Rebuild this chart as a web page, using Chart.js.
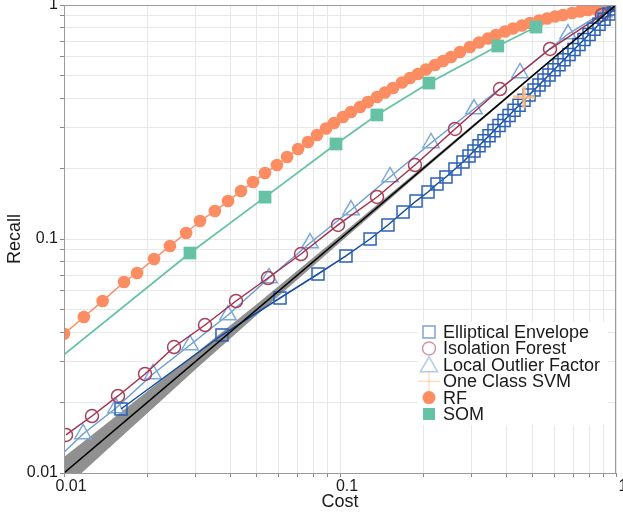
<!DOCTYPE html>
<html>
<head>
<meta charset="utf-8">
<script src="https://cdn.jsdelivr.net/npm/chart.js"></script>
<style>
  html, body { margin: 0; padding: 0; background: #fff; }
</style>
</head>
<body>
<canvas id="myChart" width="623" height="516"></canvas>
<script>
// values (cost on x, recall on y, both log)
const rfCost = [0.0100, 0.0118, 0.0138, 0.0165, 0.0184, 0.0212, 0.0242, 0.0277, 0.0311, 0.0352, 0.0393, 0.0438, 0.0484, 0.0535, 0.0591, 0.0643, 0.0705, 0.0766, 0.0826,
  0.0890, 0.0951, 0.1025, 0.1096, 0.1182, 0.1263, 0.1362, 0.1455, 0.1556, 0.1677, 0.1793, 0.1917, 0.2049, 0.2209, 0.2361, 0.2525, 0.2721, 0.2958, 0.3189, 0.3438,
  0.3674, 0.3962, 0.4235, 0.4564, 0.4880, 0.5260, 0.5623, 0.6012, 0.6427, 0.6929, 0.7408, 0.7918, 0.8464, 0.9049, 0.9512, 1.0];
const rfRecall = [0.0393, 0.0464, 0.0543, 0.0655, 0.0716, 0.0821, 0.0934, 0.1061, 0.1194, 0.1317, 0.1453, 0.1604, 0.1752, 0.1914, 0.2071, 0.2241, 0.2424, 0.2598, 0.2782,
  0.2967, 0.3131, 0.3322, 0.3488, 0.3664, 0.3849, 0.4044, 0.4227, 0.4418, 0.4665, 0.4876, 0.5072, 0.5301, 0.5540, 0.5762, 0.5994, 0.6296, 0.6614, 0.6913, 0.7192,
  0.7444, 0.7704, 0.7937, 0.8174, 0.8377, 0.8584, 0.8756, 0.8929, 0.9064, 0.9243, 0.9380, 0.9520, 0.9614, 0.9757, 0.9853, 1.0];

const somCost = [0.0075, 0.0286, 0.0535, 0.0967, 0.136, 0.210, 0.373, 0.513];
const somRecall = [0.0244, 0.0871, 0.151, 0.2547, 0.339, 0.464, 0.668, 0.805];

const ifCost = [0.01017, 0.01263, 0.01569, 0.01966, 0.02504, 0.03243, 0.04199, 0.05484, 0.07222, 0.09835, 0.1362, 0.1869, 0.2610, 0.3799, 0.5767, 0.8898, 1];
const ifRecall = [0.01454, 0.01752, 0.02134, 0.02649, 0.03455, 0.04290, 0.05433, 0.06813, 0.08627, 0.1148, 0.1512, 0.2071, 0.2952, 0.4375, 0.6486, 0.9064, 1];

const lofCost = [0.0082, 0.01172, 0.01543, 0.02101, 0.02861, 0.03928, 0.05531, 0.07786, 0.1096, 0.1518, 0.2137, 0.3058, 0.4489, 0.6701, 0.9049, 1];
const lofRecall = [0.0098, 0.01468, 0.01896, 0.02649, 0.03524, 0.04733, 0.06813, 0.09614, 0.1330, 0.1841, 0.2572, 0.3593, 0.5122, 0.7516, 0.9335, 1];

const eeCost = [0.01609, 0.03736, 0.06062, 0.08324, 0.1051, 0.1285, 0.1492, 0.1692, 0.1886, 0.2084, 0.2246, 0.2421, 0.2610, 0.2790,
  0.2934, 0.3058, 0.3189, 0.3325, 0.3467, 0.3614, 0.3768, 0.3929, 0.4097, 0.4271, 0.4453, 0.4642, 0.4840, 0.5047, 0.5260, 0.5484,
  0.5718, 0.5963, 0.6216, 0.6480, 0.6757, 0.7044, 0.7343, 0.7659, 0.7985, 0.8323, 0.8677, 0.9049, 0.9432, 0.9835, 1];
const eeRecall = [0.01877, 0.03888, 0.05596, 0.07087, 0.08462, 0.1000, 0.1148, 0.1304, 0.1453, 0.1588, 0.1718, 0.1841, 0.1991, 0.2133,
  0.2265, 0.2379, 0.2502, 0.2630, 0.2763, 0.2905, 0.3055, 0.3209, 0.3374, 0.3548, 0.3727, 0.3919, 0.4121, 0.4328, 0.4550, 0.4785,
  0.5025, 0.5284, 0.5551, 0.5837, 0.6138, 0.6447, 0.6779, 0.7128, 0.7488, 0.7873, 0.8279, 0.8695, 0.9144, 0.9614, 1];

const svmCost = [0.4642];
const svmRecall = [0.4044];

// random baseline and its grey band
const diagCost = [0.01, 1];
const diagRecall = [0.01, 1];
const bandCost = [0.01, 0.015, 0.02, 0.03, 0.05, 0.1, 0.2, 0.5, 1];
const bandHigh = [0.01171, 0.01705, 0.02229, 0.03246, 0.05278, 0.1035, 0.2040, 0.5050, 1];
const bandLow = [0.00854, 0.01320, 0.01795, 0.02773, 0.04737, 0.0966, 0.1961, 0.4950, 1];

const legendLabels = ['Elliptical Envelope', 'Isolation Forest', 'Local Outlier Factor', 'One Class SVM', 'RF', 'SOM'];
const majorTicks = [0.01, 0.1, 1];
const gridValues = [0.01, 0.02, 0.03, 0.04, 0.05, 0.06, 0.07, 0.08, 0.09, 0.1, 0.2, 0.3, 0.4, 0.5, 0.6, 0.7, 0.8, 0.9, 1];

function pairs(xs, ys) {
    return xs.map((x, i) => ({ x: x, y: ys[i] }));
}

const FONT = '"Liberation Sans", Arial, sans-serif';
Chart.defaults.font.family = FONT;
Chart.defaults.font.size = 16;
Chart.defaults.color = '#1a1a1a';

const legendMarks = [
    { pointStyle: 'rect', radius: 8.5, borderWidth: 1.5, stroke: 'rgba(45,98,181,0.6)', fill: 'rgba(0,0,0,0)' },
    { pointStyle: 'circle', radius: 6.5, borderWidth: 1.5, stroke: 'rgba(168,65,90,0.55)', fill: 'rgba(0,0,0,0)' },
    { pointStyle: 'triangle', radius: 10, borderWidth: 1.5, stroke: 'rgba(126,170,217,0.6)', fill: 'rgba(0,0,0,0)' },
    { pointStyle: 'cross', radius: 11, borderWidth: 1, stroke: 'rgba(253,190,130,0.7)', fill: 'rgba(0,0,0,0)' },
    { pointStyle: 'circle', radius: 6.5, borderWidth: 0, stroke: '#fc8d62', fill: '#fc8d62' },
    { pointStyle: 'rect', radius: 8.5, borderWidth: 0, stroke: '#66c2a5', fill: '#66c2a5' }
];

const frameAndLegend = {
    id: 'frameAndLegend',
    afterDraw(chart) {
        const ctx = chart.ctx;
        const a = chart.chartArea;
        ctx.save();
        ctx.strokeStyle = '#9a9a9a';
        ctx.lineWidth = 1;
        ctx.strokeRect(Math.round(a.left) + 0.5, Math.round(a.top) + 0.5, Math.round(a.right - a.left) - 1, Math.round(a.bottom - a.top));

        // legend box, bottom right inside the plot
        const bx = a.right - 198, by = a.bottom - 151;
        ctx.fillStyle = '#ffffff';
        ctx.fillRect(bx, by, 190, 103);
        ctx.font = '18px ' + FONT;
        ctx.textBaseline = 'middle';
        ctx.textAlign = 'left';
        legendLabels.forEach((label, i) => {
            const y = by + 10 + i * 16.4;
            const m = legendMarks[i];
            ctx.strokeStyle = m.stroke;
            ctx.fillStyle = m.fill;
            ctx.lineWidth = m.borderWidth;
            Chart.helpers.drawPoint(ctx, { pointStyle: m.pointStyle, radius: m.radius, borderWidth: m.borderWidth, rotation: 0 }, bx + 11, y + (m.pointStyle === 'triangle' ? 2 : 0));
            ctx.fillStyle = '#1a1a1a';
            ctx.fillText(label, bx + 25, y + 1);
        });
        ctx.restore();
    }
};

function logAxis(title, isX) {
    return {
        type: 'logarithmic',
        min: 0.01,
        max: 1,
        position: isX ? 'bottom' : 'left',
        border: { display: false },
        grid: { color: '#e8e8e8', lineWidth: 1, tickColor: '#8a8a8a', tickLength: 4, tickWidth: 1 },
        ticks: {
            autoSkip: false,
            maxRotation: 0,
            padding: isX ? 0 : 2,
            labelOffset: isX ? 7 : 0,
            color: '#1a1a1a',
            font: { size: 16 },
            callback: (v) => {
                const t = majorTicks.find(m => Math.abs(m - v) < m * 1e-6);
                return t === undefined ? '' : String(t);
            }
        },
        afterBuildTicks: (scale) => {
            scale.ticks = gridValues.map(v => ({ value: v }));
        },
        afterFit: (scale) => {
            if (isX) {
                scale.height = 43;
                scale.paddingLeft = 0;
                scale.paddingRight = 0;
            } else {
                scale.width = 64;
                scale.paddingTop = 0;
                scale.paddingBottom = 0;
            }
        },
        title: { display: true, text: title, color: '#1a1a1a', font: { size: 18 }, padding: { top: 4, bottom: 3 } }
    };
}

const ctx = document.getElementById('myChart').getContext('2d');

// index 0 is drawn on top
window.chart = new Chart(ctx, {
    type: 'line',
    data: {
        datasets: [
            {
                label: 'One Class SVM',
                data: pairs(svmCost, svmRecall),
                showLine: false,
                pointStyle: 'cross',
                pointRadius: 11,
                pointBorderWidth: 3.5,
                pointBorderColor: 'rgba(253,190,130,0.85)',
                pointBackgroundColor: 'rgba(0,0,0,0)'
            },
            {
                label: 'diagonal',
                data: pairs(diagCost, diagRecall),
                borderColor: '#000000',
                borderWidth: 1.5,
                pointRadius: 0,
                clip: 0
            },
            {
                label: 'Elliptical Envelope',
                data: pairs(eeCost, eeRecall),
                borderColor: '#0f4aa0',
                borderWidth: 1.5,
                pointStyle: 'rect',
                pointRadius: 8.5,
                pointBorderWidth: 1.5,
                pointBorderColor: '#2d62b5',
                pointBackgroundColor: 'rgba(0,0,0,0)'
            },
            {
                label: 'Isolation Forest',
                data: pairs(ifCost, ifRecall),
                borderColor: '#a3304e',
                borderWidth: 1.5,
                pointStyle: 'circle',
                pointRadius: 6.5,
                pointBorderWidth: 1.5,
                pointBorderColor: '#a8415a',
                pointBackgroundColor: 'rgba(0,0,0,0)'
            },
            {
                label: 'Local Outlier Factor',
                data: pairs(lofCost, lofRecall),
                borderColor: '#6b9dd3',
                borderWidth: 1.5,
                pointStyle: 'triangle',
                pointRadius: 9.5,
                pointBorderWidth: 1.5,
                pointBorderColor: '#7eaad9',
                pointBackgroundColor: 'rgba(0,0,0,0)',
                clip: 0
            },
            {
                label: 'SOM',
                data: pairs(somCost, somRecall),
                borderColor: '#66c2a5',
                borderWidth: 1.8,
                pointStyle: 'rect',
                pointRadius: 9,
                pointBorderWidth: 0,
                pointBackgroundColor: '#66c2a5',
                clip: 0
            },
            {
                label: 'RF',
                data: pairs(rfCost, rfRecall),
                borderColor: '#fc8d62',
                borderWidth: 1.5,
                pointStyle: 'circle',
                pointRadius: 6.3,
                pointBorderWidth: 0,
                pointBackgroundColor: '#fc8d62',
                clip: 0
            },
            {
                label: 'band high',
                data: pairs(bandCost, bandHigh),
                borderWidth: 0,
                pointRadius: 0,
                fill: '+1',
                backgroundColor: 'rgba(125,125,125,0.85)',
                clip: 0
            },
            {
                label: 'band low',
                data: pairs(bandCost, bandLow),
                borderWidth: 0,
                pointRadius: 0,
                fill: false,
                clip: 0
            }
        ]
    },
    options: {
        responsive: false,
        animation: false,
        layout: { autoPadding: false, padding: { left: 0, top: 5, right: 7, bottom: 0 } },
        plugins: {
            legend: { display: false },
            tooltip: { enabled: false }
        },
        scales: {
            x: logAxis('Cost', true),
            y: logAxis('Recall', false)
        }
    },
    plugins: [frameAndLegend]
});
</script>
</body>
</html>
